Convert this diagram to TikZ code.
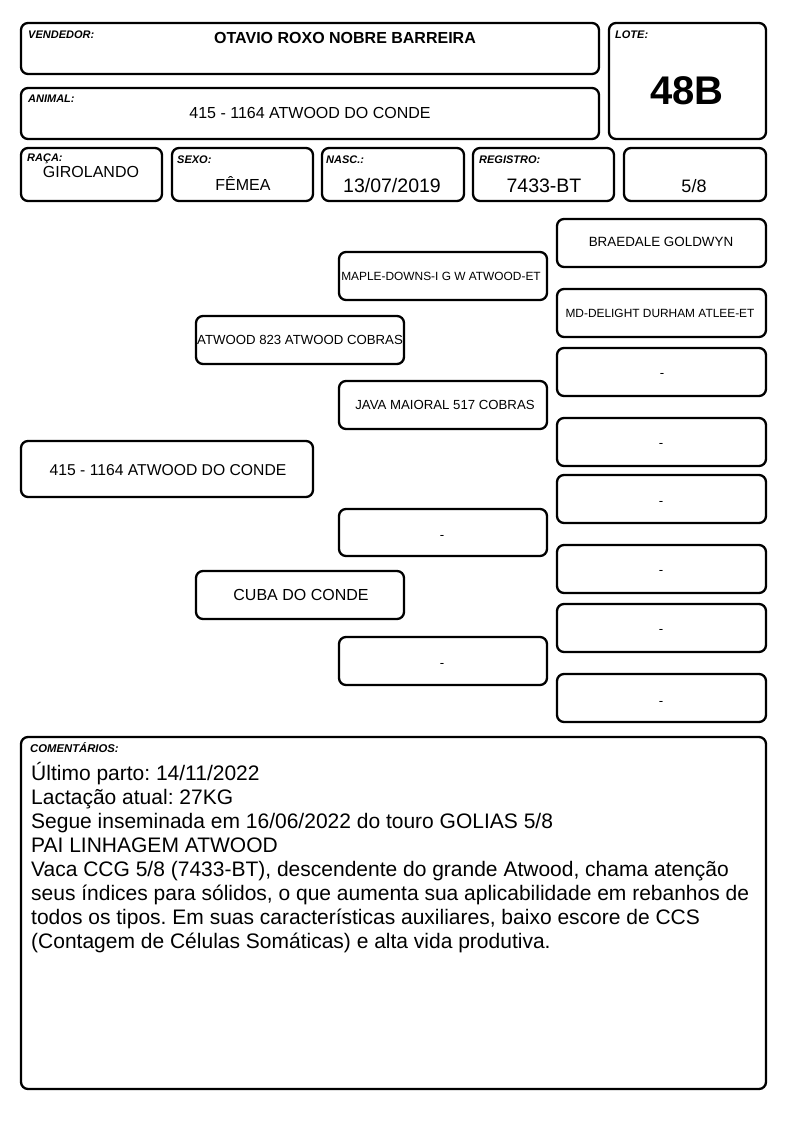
\documentclass[tikz,border=0pt]{standalone}
\usepackage{fontspec}
\setmainfont{Liberation Sans}
\frenchspacing
\begin{document}
\begin{tikzpicture}[x=1pt,y=-1pt,
  box/.style={draw=black, line width=2.3pt, rounded corners=7pt, inner sep=0pt, fill=white},
  lab/.style={anchor=west, inner sep=0pt, font=\fontsize{11}{12}\selectfont\bfseries\itshape},
  val/.style={inner sep=0pt, font=\fontsize{16}{18}\selectfont},
  big/.style={inner sep=0pt, font=\fontsize{19.5}{21}\selectfont},
  ped/.style={inner sep=0pt, font=\fontsize{13.2}{15}\selectfont},
  pedsm/.style={inner sep=0pt, font=\fontsize{11.9}{13}\selectfont}]
\newcommand\bx[5]{\node[box, minimum width={(#4-#2)*1pt}, minimum height={(#5-#3)*1pt}] (#1) at ({(#2+#4)/2},{(#3+#5)/2}) {};}
\useasboundingbox[fill=white] (0,0) rectangle (794,1123);
% header
\bx{vend}{21}{23}{599}{74}
\bx{anim}{21}{88}{599}{139}
\bx{lote}{609}{23}{766}{139}
\bx{raca}{21}{148}{162}{201}
\bx{sexo}{172}{148}{313}{201}
\bx{nasc}{322}{148}{464}{201}
\bx{reg}{473}{148}{614}{201}
\bx{grau}{624}{148}{766}{201}
\node[lab] (vendl) at (28,35) {VENDEDOR:};
\node[val, font=\fontsize{16}{18}\selectfont\bfseries] (vendv) at (345,38) {OTAVIO ROXO NOBRE BARREIRA};
\node[lab] (animl) at (28,99) {ANIMAL:};
\node[val] (animv) at (310,113) {415 - 1164 ATWOOD DO CONDE};
\node[lab] (lotel) at (615,35) {LOTE:};
\node[inner sep=0pt, font=\fontsize{40}{44}\selectfont\bfseries] (lotev) at (687,91) {48B};
\node[lab] (racal) at (27,159) {RAÇA:};
\node[val] (racav) at (91,172) {GIROLANDO};
\node[lab] (sexol) at (177,160) {SEXO:};
\node[val] (sexov) at (243,184) {FÊMEA};
\node[lab] (nascl) at (326,160) {NASC.:};
\node[big] (nascv) at (392,186) {13/07/2019};
\node[big] (regv) at (544,186) {7433-BT};
\node[lab] (regl) at (479,160) {REGISTRO:};
\node[big, font=\fontsize{18}{20}\selectfont] (grauv) at (694,186) {5/8};
% pedigree
\bx{g1}{557}{219}{766}{267}
\node[ped, font=\fontsize{13.4}{15}\selectfont] at (661,242) {BRAEDALE GOLDWYN};
\bx{p1}{339}{252}{547}{300}
\node[pedsm] at (441,276) {MAPLE-DOWNS-I G W ATWOOD-ET};
\bx{g2}{557}{289}{766}{337}
\node[pedsm] at (660,313) {MD-DELIGHT DURHAM ATLEE-ET};
\bx{s1}{196}{316}{404}{364}
\node[ped] at (300,340) {ATWOOD 823 ATWOOD COBRAS};
\bx{g3}{557}{348}{766}{396}
\node[ped] at (662,375) {-};
\bx{p2}{339}{381}{547}{429}
\node[ped] at (445,405) {JAVA MAIORAL 517 COBRAS};
\bx{g4}{557}{418}{766}{466}
\node[ped] at (661,445) {-};
\bx{an}{21}{441}{313}{497}
\node[val, font=\fontsize{15.7}{17}\selectfont] at (168,470) {415 - 1164 ATWOOD DO CONDE};
\bx{g5}{557}{475}{766}{523}
\node[ped] at (661,503) {-};
\bx{p3}{339}{509}{547}{556}
\node[ped] at (442,537) {-};
\bx{g6}{557}{545}{766}{593}
\node[ped] at (661,572) {-};
\bx{s2}{196}{571}{404}{619}
\node[val] at (301,595) {CUBA DO CONDE};
\bx{g7}{557}{604}{766}{652}
\node[ped] at (661,631) {-};
\bx{p4}{339}{637}{547}{685}
\node[ped] at (442,665) {-};
\bx{g8}{557}{674}{766}{722}
\node[ped] at (661,703) {-};
% comments
\bx{com}{21}{737}{766}{1089}
\node[lab, font=\fontsize{11.3}{12}\selectfont\bfseries\itshape] (coml) at (30,748) {COMENTÁRIOS:};
\node[anchor=north west, inner sep=0pt, align=left, font=\fontsize{21}{24}\selectfont] (comv) at (31,762) {Último parto: 14/11/2022\\
Lactação atual: 27KG\\
Segue inseminada em 16/06/2022 do touro GOLIAS 5/8\\
PAI LINHAGEM ATWOOD\\
Vaca CCG 5/8 (7433-BT), descendente do grande Atwood, chama atenção\\
seus índices para sólidos, o que aumenta sua aplicabilidade em rebanhos de\\
todos os tipos. Em suas características auxiliares, baixo escore de CCS\\
(Contagem de Células Somáticas) e alta vida produtiva.};
\end{tikzpicture}
\end{document}
